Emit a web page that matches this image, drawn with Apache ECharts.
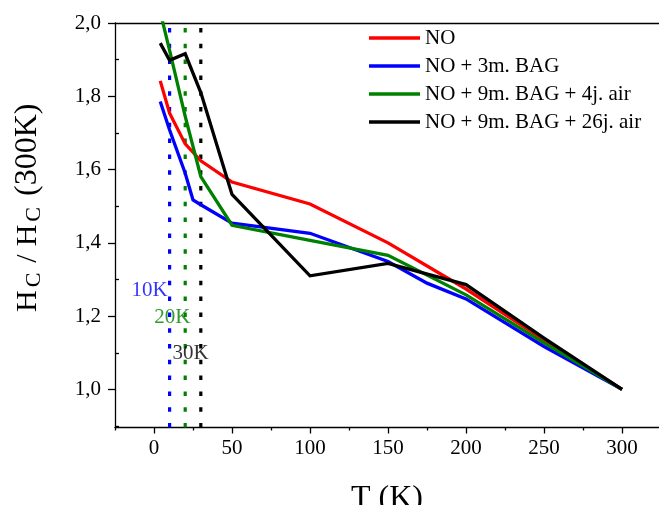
<!DOCTYPE html>
<html>
<head>
<meta charset="utf-8">
<script src="https://cdn.jsdelivr.net/npm/echarts@6/dist/echarts.min.js"></script>
<style>
html,body{margin:0;padding:0;background:#fff;}
#chart{width:659px;height:505px;}
</style>
</head>
<body>
<div id="chart"></div>
<script>
// ---- data ----
const seriesNames = ['NO', 'NO + 3m. BAG', 'NO + 9m. BAG + 4j. air', 'NO + 9m. BAG + 26j. air'];
const seriesColors = ['#ff0000', '#0000ff', '#008000', '#000000'];
const tNO    = [4, 10, 20, 30, 50, 100, 150, 200, 250, 300];
const hNO    = [1.842, 1.754, 1.670, 1.624, 1.566, 1.506, 1.400, 1.274, 1.135, 1.000];
const tBAG3  = [4, 10, 20, 25, 30, 50, 100, 150, 175, 200, 250, 300];
const hBAG3  = [1.786, 1.708, 1.590, 1.517, 1.504, 1.454, 1.426, 1.349, 1.290, 1.247, 1.117, 1.000];
const tBAG4  = [4, 10, 20, 30, 50, 100, 150, 200, 250, 300];
const hBAG4  = [2.030, 1.925, 1.745, 1.581, 1.448, 1.407, 1.366, 1.258, 1.127, 1.000];
const tBAG26 = [4, 10, 20, 30, 50, 100, 150, 200, 250, 300];
const hBAG26 = [1.945, 1.898, 1.916, 1.810, 1.532, 1.310, 1.344, 1.286, 1.140, 1.000];

const markerT      = [10, 20, 30];
const markerColors = ['#0000ff', '#008000', '#000000'];
const markerLabels = ['10K', '20K', '30K'];
const markerLabelT = [-2.8, 11.7, 23.5];
const markerLabelH = [1.270, 1.197, 1.097];

const xMin = -25, xMax = 323.7, yMin = 0.896, yMax = 2.0;
const xMajorTicks = [0, 50, 100, 150, 200, 250, 300];
const xMinorTicks = [-25, 25, 75, 125, 175, 225, 275];
const yMajorTicks = [1.0, 1.2, 1.4, 1.6, 1.8, 2.0];
const yMinorTicks = [0.9, 1.1, 1.3, 1.5, 1.7, 1.9];

const FONT = "'Liberation Serif', 'Times New Roman', serif";

function pairs(xs, ys){ return xs.map((x,i)=>[x, ys[i]]); }

const dataSets = [pairs(tNO,hNO), pairs(tBAG3,hBAG3), pairs(tBAG4,hBAG4), pairs(tBAG26,hBAG26)];

const series = [];
markerT.forEach((t,i)=>{
  series.push({
    type:'line', silent:true, showSymbol:false, symbol:'none', z:1,
    data:[[t, yMin],[t, yMax]],
    lineStyle:{color:markerColors[i], width:3.2, type:[4.5,11.3], cap:'butt'}
  });
});
dataSets.forEach((d,i)=>{
  series.push({
    name:seriesNames[i], type:'line', data:d, showSymbol:false, symbol:'none',
    color:seriesColors[i], z:3, clip:true,
    lineStyle:{color:seriesColors[i], width:3.3, join:'miter'}
  });
});
series.push({
  type:'scatter', silent:true, symbolSize:0, z:4,
  data: markerLabels.map((s,i)=>({value:[markerLabelT[i], markerLabelH[i]], name:s,
    label:{color:markerColors[i]}})),
  label:{show:true, position:'inside', formatter:p=>p.name, fontFamily:FONT, fontSize:21}
});

const chart = echarts.init(document.getElementById('chart'), null, {renderer:'canvas'});
chart.setOption({
  animation:false,
  backgroundColor:'#ffffff',
  grid:{left:115, right:0, top:23, bottom:77.5, containLabel:false, outerBoundsMode:'none'},
  legend:{
    data:seriesNames, orient:'vertical', left:364, top:22.5,
    itemWidth:51, itemHeight:3.3, itemGap:7, icon:'rect',
    textStyle:{fontFamily:FONT, fontSize:21, color:'#000', lineHeight:21}
  },
  xAxis:[
    {type:'value', min:xMin, max:xMax, position:'bottom',
     axisLine:{show:true, onZero:false, lineStyle:{color:'#000', width:1.3}},
     axisTick:{show:true, inside:false, length:6, customValues:xMajorTicks, lineStyle:{color:'#000', width:1.3}},
     axisLabel:{show:true, customValues:xMajorTicks, fontFamily:FONT, fontSize:21, color:'#000', margin:10},
     splitLine:{show:false},
     name:'T (K)', nameLocation:'middle', nameGap:55,
     nameTextStyle:{fontFamily:FONT, fontSize:32, color:'#000'}},
    {type:'value', min:xMin, max:xMax, position:'bottom',
     axisLine:{show:false, onZero:false},
     axisTick:{show:true, inside:false, length:3, customValues:xMinorTicks, lineStyle:{color:'#000', width:1.3}},
     axisLabel:{show:false}, splitLine:{show:false}},
    {type:'value', min:xMin, max:xMax, position:'top',
     axisLine:{show:true, onZero:false, lineStyle:{color:'#000', width:1.3}},
     axisTick:{show:false}, axisLabel:{show:false}, splitLine:{show:false}}
  ],
  yAxis:[
    {type:'value', min:yMin, max:yMax, position:'left',
     axisLine:{show:true, onZero:false, lineStyle:{color:'#000', width:1.3}},
     axisTick:{show:true, inside:false, length:7, customValues:yMajorTicks, lineStyle:{color:'#000', width:1.3}},
     axisLabel:{show:true, customValues:yMajorTicks, fontFamily:FONT, fontSize:21, color:'#000', margin:14,
       formatter:v=>v.toFixed(1).replace('.', ',')},
     splitLine:{show:false},
     name:'{h1|H}{s1|C}{sl|/}{h2|H}{s2|C}{p|(300K)}', nameLocation:'middle', nameGap:70, nameRotate:90,
     nameTextStyle:{fontFamily:FONT, color:'#000', padding:[0,0,0,35],
       rich:{
         h1:{fontFamily:FONT, fontSize:30, color:'#000', lineHeight:34, verticalAlign:'middle', padding:[0,3,0,3]},
         h2:{fontFamily:FONT, fontSize:30, color:'#000', lineHeight:34, verticalAlign:'middle', padding:[0,3,0,3]},
         sl:{fontFamily:FONT, fontSize:30, color:'#000', lineHeight:34, verticalAlign:'middle', padding:[0,5,0,5]},
         p:{fontFamily:FONT, fontSize:32, color:'#000', lineHeight:34, verticalAlign:'middle', padding:[0,3,0,0]},
         s1:{fontFamily:FONT, fontSize:22, color:'#000', lineHeight:34, verticalAlign:'bottom', padding:[0,5,0,0]},
         s2:{fontFamily:FONT, fontSize:22, color:'#000', lineHeight:34, verticalAlign:'bottom', padding:[0,11,0,0]}
       }}},
    {type:'value', min:yMin, max:yMax, position:'left',
     axisLine:{show:false, onZero:false},
     axisTick:{show:true, inside:true, length:4, customValues:yMinorTicks, lineStyle:{color:'#000', width:1.3}},
     axisLabel:{show:false}, splitLine:{show:false}}
  ],
  series: series
});
</script>
</body>
</html>
